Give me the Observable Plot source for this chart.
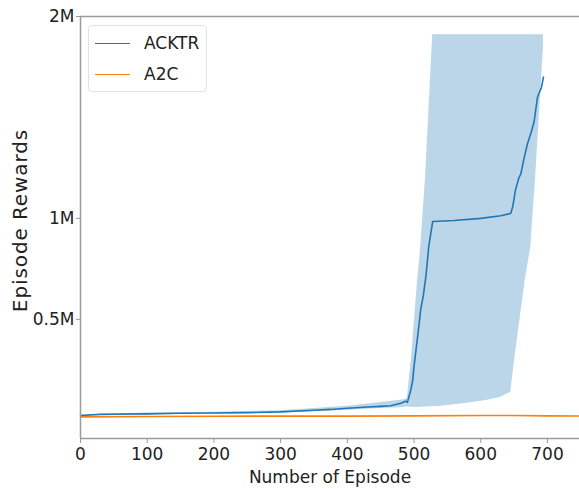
<!DOCTYPE html>
<html>
<head>
<meta charset="utf-8">
<script src="https://cdn.jsdelivr.net/npm/d3@7"></script>
<script src="https://cdn.jsdelivr.net/npm/@observablehq/plot@0.6"></script>
<style>
  html, body { margin: 0; padding: 0; background: #fff; }
  #wrap { position: relative; width: 579px; height: 489px; font-family: "DejaVu Sans", sans-serif; }
  #legend { position: absolute; left: 88px; top: 25px; width: 119px; height: 67px; border: 1px solid #e2e2e2; border-radius: 4px; background: rgba(255,255,255,0.85); box-sizing: border-box; }
  .item { position: absolute; left: 6px; height: 20px; display: flex; align-items: center; font-size: 17px; color: #222; }
  .sw { width: 35px; height: 0; border-top: 1.5px solid; margin-right: 14px; }
</style>
</head>
<body>
<div id="wrap"></div>
<script>
// Series names and colours
const seriesNames = ["ACKTR", "A2C"];
const seriesColors = ["#1f77b4", "#ff7f0e"];

// ACKTR mean curve (episode, reward in millions)
const acktrEp  = [0, 30, 100, 150, 200, 250, 300, 350, 375, 400, 430, 450, 465, 480, 487, 490, 495, 498, 500, 503, 507, 510, 514, 518, 522, 528, 560, 600, 630, 645, 648, 652, 657, 660, 665, 670, 675, 680, 685, 691, 694];
const acktrVal = [0.024, 0.03, 0.032, 0.035, 0.036, 0.038, 0.042, 0.05, 0.054, 0.06, 0.066, 0.069, 0.072, 0.085, 0.095, 0.089, 0.149, 0.198, 0.27, 0.35, 0.46, 0.55, 0.62, 0.72, 0.86, 0.985, 0.99, 1.0, 1.013, 1.025, 1.06, 1.14, 1.20, 1.22, 1.30, 1.37, 1.42, 1.48, 1.60, 1.65, 1.70];

// ACKTR spread band (episode, lower, upper in millions)
const bandEp = [0, 100, 200, 300, 350, 400, 450, 480, 488, 490, 496, 502, 505, 510, 517, 528, 540, 580, 610, 630, 645, 650, 660, 667, 675, 682, 688, 694];
const bandLo = [0.018, 0.029, 0.032, 0.037, 0.043, 0.05, 0.058, 0.062, 0.066, 0.066, 0.065, 0.064, 0.064, 0.065, 0.066, 0.068, 0.07, 0.084, 0.10, 0.114, 0.139, 0.28, 0.53, 0.70, 0.86, 1.19, 1.52, 1.85];
const bandHi = [0.026, 0.036, 0.04, 0.048, 0.058, 0.07, 0.088, 0.100, 0.105, 0.11, 0.30, 0.55, 0.68, 0.86, 1.19, 1.91, 1.91, 1.91, 1.91, 1.91, 1.91, 1.91, 1.91, 1.91, 1.91, 1.91, 1.91, 1.91];

// A2C mean curve
const a2cEp  = [0, 100, 200, 300, 400, 500, 600, 650, 700, 760];
const a2cVal = [0.017, 0.019, 0.02, 0.021, 0.021, 0.022, 0.024, 0.024, 0.022, 0.021];

// Ticks
const xTicks = [0, 100, 200, 300, 400, 500, 600, 700];
const yTicks = [0.5, 1, 2];
const yTickLabels = ["0.5M", "1M", "2M"];
const xLabel = "Number of Episode";
const yLabel = "Episode Rewards";

const M = 1e6;
const acktr = acktrEp.map((e, i) => ({ep: e, v: acktrVal[i] * M}));
const band = bandEp.map((e, i) => ({ep: e, lo: bandLo[i] * M, hi: bandHi[i] * M}));
const a2c = a2cEp.map((e, i) => ({ep: e, v: a2cVal[i] * M}));

const yMin = -0.09 * M, yMax = 2.0 * M;
const spine = "#9a9a9a";

const chart = Plot.plot({
  width: 579,
  height: 489,
  marginLeft: 80,
  marginRight: 0,
  marginTop: 16,
  marginBottom: 51,
  style: {fontFamily: "DejaVu Sans, sans-serif", fontSize: "17px", color: "#222", background: "#fff"},
  x: {domain: [0, 748]},
  y: {domain: [yMin, yMax]},
  marks: [
    Plot.areaY(band, {x: "ep", y1: "lo", y2: "hi", fill: seriesColors[0], fillOpacity: 0.3}),
    Plot.line(a2c, {x: "ep", y: "v", stroke: seriesColors[1], strokeWidth: 1.6, clip: true}),
    Plot.line(acktr, {x: "ep", y: "v", stroke: seriesColors[0], strokeWidth: 1.6}),
    Plot.ruleX([0], {stroke: spine, strokeWidth: 1.5}),
    Plot.ruleY([yMin], {stroke: spine, strokeWidth: 1.5}),
    Plot.ruleY([yMax], {stroke: spine, strokeWidth: 1.5}),
    Plot.axisX({ticks: xTicks, tickSize: 5, tickPadding: 4, stroke: spine, label: null, fontSize: 17}),
    Plot.axisY({ticks: yTicks.map(t => t * M), tickFormat: (d) => yTickLabels[yTicks.indexOf(d / M)], tickSize: 4, tickPadding: 2, stroke: spine, label: null, fontSize: 17}),
    Plot.text([xLabel], {frameAnchor: "bottom", dy: 39, lineAnchor: "middle", fontSize: 17, fill: "#222"}),
    Plot.text([yLabel], {frameAnchor: "left", dx: -60, dy: -7, rotate: -90, lineAnchor: "middle", textAnchor: "middle", fontSize: 20, fill: "#222", className: "ylab"})
  ]
});

d3.select(chart).selectAll(".ylab text").style("letter-spacing", "0.9px");

const wrap = document.getElementById("wrap");
wrap.appendChild(chart);

const legend = document.createElement("div");
legend.id = "legend";
seriesNames.forEach((name, i) => {
  const item = document.createElement("div");
  item.className = "item";
  item.style.top = (i === 0 ? 7 : 38) + "px";
  const sw = document.createElement("span");
  sw.className = "sw";
  sw.style.borderColor = seriesColors[i];
  const t = document.createElement("span");
  t.textContent = name;
  item.appendChild(sw);
  item.appendChild(t);
  legend.appendChild(item);
});
wrap.appendChild(legend);
</script>
</body>
</html>
